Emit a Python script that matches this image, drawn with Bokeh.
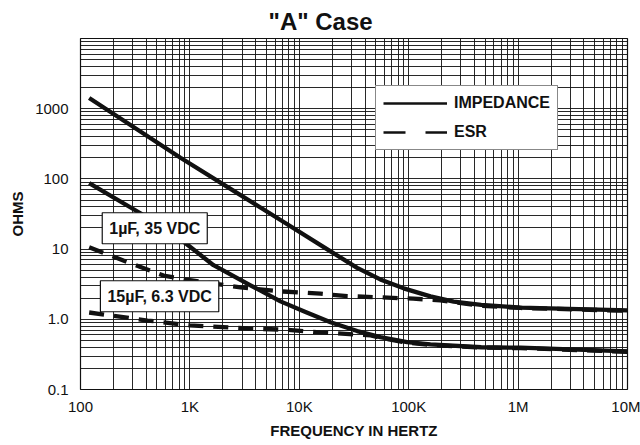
from bokeh.plotting import figure
from bokeh.models import Range1d, FixedTicker, Legend, LegendItem, Label
from bokeh.embed import file_html
from bokeh.resources import INLINE

# ---------------- data ----------------
freq_z_1uF = [120, 820, 2350, 6730, 19300, 33800, 55000, 90000, 158000, 258000, 460000, 1.05e6, 1e7]
impedance_1uF = [1420, 200, 72, 26, 9.3, 5.4, 3.7, 2.76, 2.12, 1.78, 1.6, 1.47, 1.34]

freq_esr_1uF = [120, 246, 575, 1000, 2900, 6730, 15600, 27400, 110000, 195000, 460000, 1.05e6, 1e7]
esr_1uF = [10.6, 6.9, 4.2, 3.6, 2.85, 2.5, 2.32, 2.14, 1.97, 1.86, 1.56, 1.45, 1.32]

freq_z_15uF = [120, 353, 900, 1644, 3580, 6730, 11400, 19300, 33800, 55000, 96800, 158000, 460000, 1.05e6, 1e7]
impedance_15uF = [87, 32.4, 12.3, 5.9, 3.05, 1.8, 1.27, 0.91, 0.68, 0.557, 0.473, 0.438, 0.40, 0.394, 0.35]

freq_esr_15uF = [120, 410, 1000, 3400, 7500, 15600, 45000, 55000, 96800, 158000, 460000, 1.05e6, 1e7]
esr_15uF = [1.25, 0.96, 0.82, 0.74, 0.71, 0.65, 0.59, 0.545, 0.465, 0.43, 0.395, 0.388, 0.345]

x_ticks = [100, 1000, 10000, 100000, 1000000, 10000000]
x_tick_labels = ["100", "1K", "10K", "100K", "1M", "10M"]
y_ticks = [0.1, 1, 10, 100, 1000]
y_tick_labels = ["0.1", "1.0", "10", "100", "1000"]

title_text = '"A" Case'
x_title = "FREQUENCY IN HERTZ"
y_title = "OHMS"
series_names = ["IMPEDANCE", "ESR"]
part_names = ["1\u00b5F, 35 VDC", "15\u00b5F, 6.3 VDC"]

# ---------------- styling ----------------
FONT = "Liberation Sans"
INK = "#111111"

p = figure(width=640, height=445, x_axis_type="log", y_axis_type="log",
           x_range=Range1d(100, 1e7), y_range=Range1d(0.1, 10000),
           output_backend="svg", toolbar_location=None,
           min_border_left=80, min_border_right=13, min_border_top=38, min_border_bottom=56)

p.background_fill_color = "white"
p.border_fill_color = "white"
p.outline_line_color = INK
p.outline_line_width = 1.2

# title
p.title.text = title_text
p.title.text_font = FONT
p.title.text_font_style = "bold"
p.title.text_font_size = "24px"
p.title.text_color = INK
p.title.align = "left"
p.title.offset = 188
p.title.standoff = 7

# log grids
minor_x = [m * 10 ** k for k in range(2, 7) for m in range(2, 10)]
minor_y = [m * 10.0 ** k for k in range(-1, 4) for m in range(2, 10)]

p.xaxis.ticker = FixedTicker(ticks=x_ticks, minor_ticks=minor_x)
p.yaxis.ticker = FixedTicker(ticks=y_ticks, minor_ticks=minor_y)

for g in (p.xgrid, p.ygrid):
    g.grid_line_color = INK
    g.grid_line_width = 1
    g.grid_line_alpha = 0.9
    g.minor_grid_line_color = INK
    g.minor_grid_line_width = 1
    g.minor_grid_line_alpha = 0.9

for ax in (p.xaxis, p.yaxis):
    ax.axis_line_color = None
    ax.major_tick_in = 0
    ax.major_tick_out = 0
    ax.minor_tick_in = 0
    ax.minor_tick_out = 0
    ax.major_label_text_font = FONT
    ax.major_label_text_font_size = "15px"
    ax.major_label_text_color = INK
    ax.axis_label_text_font = FONT
    ax.axis_label_text_font_style = "bold"
    ax.axis_label_text_font_size = "15px"
    ax.axis_label_text_color = INK

p.yaxis.major_label_overrides = {t: s for t, s in zip(y_ticks, y_tick_labels)}
p.yaxis.major_label_standoff = 12
p.yaxis.axis_label = y_title
p.yaxis.axis_label_standoff = 6

p.xaxis.major_label_overrides = {t: s for t, s in zip(x_ticks, x_tick_labels)}
p.xaxis.major_label_standoff = 8
p.xaxis.axis_label = x_title
p.xaxis.axis_label_standoff = 4

# curves
lw = 4.3
p.line(freq_esr_1uF, esr_1uF, line_color=INK, line_width=lw, line_dash="15 10")
p.line(freq_esr_15uF, esr_15uF, line_color=INK, line_width=lw, line_dash="15 10")
p.line(freq_z_1uF, impedance_1uF, line_color=INK, line_width=lw, line_join="round")
p.line(freq_z_15uF, impedance_15uF, line_color=INK, line_width=lw, line_join="round")

# legend proxies (thin strokes as in the printed key; no visible data)
nan = float("nan")
proxy_solid = p.line([nan], [nan], line_color=INK, line_width=2.5)
proxy_dash = p.line([nan], [nan], line_color=INK, line_width=2.5, line_dash="22 20")

legend = Legend(items=[LegendItem(label=series_names[0], renderers=[proxy_solid]),
                       LegendItem(label=series_names[1], renderers=[proxy_dash])],
                location=(295, 239), glyph_width=64, glyph_height=20, label_height=20,
                label_standoff=7, spacing=9, padding=7, margin=0,
                label_text_font=FONT, label_text_font_style="bold", label_text_font_size="16px",
                label_text_color=INK, border_line_color=INK, border_line_width=1.2,
                background_fill_color="white", background_fill_alpha=1)
p.add_layout(legend)

# part callouts
for txt, fx, oy in [(part_names[0], 158, 19.8), (part_names[1], 152, 2.13)]:
    p.add_layout(Label(x=fx, y=oy, text=txt, text_font=FONT, text_font_style="bold",
                       text_font_size="16px", text_color=INK, text_baseline="middle",
                       text_align="left", padding=7,
                       background_fill_color="white", background_fill_alpha=1,
                       border_line_color=INK, border_line_width=1.2))

open("out.html", "w").write(file_html(p, INLINE))
